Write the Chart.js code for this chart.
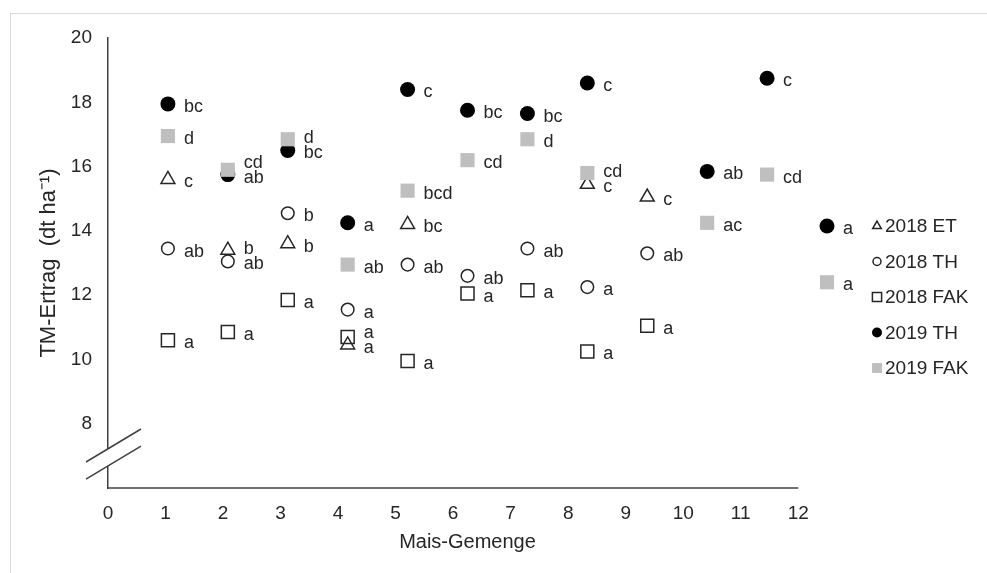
<!DOCTYPE html>
<html>
<head>
<meta charset="utf-8">
<script src="https://cdn.jsdelivr.net/npm/chart.js@4.4.1/dist/chart.umd.min.js"></script>
<style>
body { margin: 0; background: #fff; }
#rahmen { position: absolute; left: 10px; top: 13px; width: 990px; height: 580px; border-left: 1px solid #d9d9d9; border-top: 1px solid #d9d9d9; }
canvas { position: absolute; left: 0; top: 0; }
</style>
</head>
<body>
<div id="rahmen"></div>
<canvas id="ertrag" width="987" height="573"></canvas>
<script>
const gemenge = [1, 2, 3, 4, 5, 6, 7, 8, 9, 10, 11, 12];
const xTicks = [0, 1, 2, 3, 4, 5, 6, 7, 8, 9, 10, 11, 12];
const yTicks = [8, 10, 12, 14, 16, 18, 20];

const et2018 = [15.6, 13.4, 13.6, 10.45, 14.2, null, null, 15.45, 15.05, null, null, null];
const et2018Buchst = ["c", "b", "b", "a", "bc", null, null, "c", "c", null, null, null];

const th2018 = [13.45, 13.05, 14.55, 11.55, 12.95, 12.6, 13.45, 12.25, 13.3, null, null, null];
const th2018Buchst = ["ab", "ab", "b", "a", "ab", "ab", "ab", "a", "ab", null, null, null];

const fak2018 = [10.6, 10.85, 11.85, 10.7, 9.95, 12.05, 12.15, 10.25, 11.05, null, null, null];
const fak2018Buchst = ["a", "a", "a", "a", "a", "a", "a", "a", "a", null, null, null];

const th2019 = [17.95, 15.75, 16.5, 14.25, 18.4, 17.75, 17.65, 18.6, null, 15.85, 18.75, 14.15];
const th2019Buchst = ["bc", "ab", "bc", "a", "c", "bc", "bc", "c", null, "ab", "c", "a"];

const fak2019 = [16.95, 15.9, 16.85, 12.95, 15.25, 16.2, 16.85, 15.8, null, 14.25, 15.75, 12.4];
const fak2019Buchst = ["d", "cd", "d", "ab", "bcd", "cd", "d", "cd", null, "ac", "cd", "a"];

const dunkel = "#262626";
const schrift = "'Liberation Sans', Arial, sans-serif";
Chart.defaults.font.family = schrift;
Chart.defaults.font.size = 19;
Chart.defaults.color = dunkel;

const punkte = werte => gemenge.map((g, i) => ({ x: g, y: werte[i] }));

// Buchstaben rechts neben den Punkten, bei Überlappung wird der obere nach oben geschoben
const buchstaben = {
  id: "buchstaben",
  afterDatasetsDraw(chart) {
    const ctx = chart.ctx;
    const spalten = {};
    chart.data.datasets.forEach((ds, di) => {
      chart.getDatasetMeta(di).data.forEach((pt, i) => {
        const t = ds.buchstaben[i];
        if (!t || pt.skip) return;
        (spalten[i] = spalten[i] || []).push({ t: t, x: pt.x + 16, y: pt.y + 3 });
      });
    });
    ctx.save();
    ctx.font = "18px " + schrift;
    ctx.fillStyle = dunkel;
    ctx.textAlign = "left";
    ctx.textBaseline = "middle";
    Object.values(spalten).forEach(liste => {
      liste.sort((a, b) => a.y - b.y);
      for (let j = liste.length - 2; j >= 0; j--) {
        if (liste[j].y > liste[j + 1].y - 15) liste[j].y = liste[j + 1].y - 15;
      }
      liste.forEach(l => ctx.fillText(l.t, l.x, l.y));
    });
    ctx.restore();
  }
};

// x-Achsenlinie bis zur Beschriftung 12, dazu der Achsenbruch an der y-Achse
const achsen = {
  id: "achsen",
  beforeDatasetsDraw(chart) {
    const ctx = chart.ctx;
    const a = chart.chartArea;
    ctx.save();
    ctx.strokeStyle = "#404040";
    ctx.lineWidth = 1.5;
    ctx.beginPath();
    ctx.moveTo(a.left, a.bottom);
    ctx.lineTo(chart.scales.x2.getPixelForValue(12), a.bottom);
    ctx.stroke();
    ctx.restore();
  },
  afterDraw(chart) {
    const ctx = chart.ctx;
    const y = chart.scales.y;
    const ax = chart.chartArea.left;
    const y1 = y.getPixelForValue(7.22);
    const y2 = y.getPixelForValue(6.69);
    const m = 0.6;
    ctx.save();
    ctx.fillStyle = "#fff";
    ctx.beginPath();
    ctx.moveTo(ax - 4, y1 + 4 * m);
    ctx.lineTo(ax + 4, y1 - 4 * m);
    ctx.lineTo(ax + 4, y2 - 4 * m);
    ctx.lineTo(ax - 4, y2 + 4 * m);
    ctx.closePath();
    ctx.fill();
    ctx.strokeStyle = "#404040";
    ctx.lineWidth = 1.5;
    [y1, y2].forEach(yc => {
      ctx.beginPath();
      ctx.moveTo(ax - 22, yc + 22 * m);
      ctx.lineTo(ax + 33, yc - 33 * m);
      ctx.stroke();
    });
    ctx.restore();
  }
};

// Legende rechts
const legende = {
  id: "legende",
  afterDraw(chart) {
    const ctx = chart.ctx;
    ctx.save();
    ctx.font = "19px " + schrift;
    ctx.textAlign = "left";
    ctx.textBaseline = "middle";
    chart.data.datasets.forEach((ds, i) => {
      const y = 226 + i * 35.5;
      ctx.fillStyle = ds.backgroundColor;
      ctx.strokeStyle = ds.borderColor;
      ctx.lineWidth = ds.borderWidth;
      Chart.helpers.drawPoint(ctx, { pointStyle: ds.pointStyle, radius: ds.legendRadius, borderWidth: ds.borderWidth, rotation: 0 }, 877, y);
      ctx.fillStyle = dunkel;
      ctx.fillText(ds.label, 885, y + 1);
    });
    ctx.restore();
  }
};

new Chart(document.getElementById("ertrag"), {
  type: "scatter",
  data: {
    datasets: [
      { label: "2018 ET", data: punkte(et2018), buchstaben: et2018Buchst, order: 5,
        pointStyle: "triangle", pointRadius: 8, legendRadius: 5,
        backgroundColor: "rgba(0,0,0,0)", borderColor: dunkel, borderWidth: 1.5, clip: false },
      { label: "2018 TH", data: punkte(th2018), buchstaben: th2018Buchst, order: 4,
        pointStyle: "circle", pointRadius: 6.3, legendRadius: 4,
        backgroundColor: "rgba(0,0,0,0)", borderColor: dunkel, borderWidth: 1.5, clip: false },
      { label: "2018 FAK", data: punkte(fak2018), buchstaben: fak2018Buchst, order: 3,
        pointStyle: "rect", pointRadius: 9.2, legendRadius: 6.5,
        backgroundColor: "rgba(0,0,0,0)", borderColor: dunkel, borderWidth: 1.5, clip: false },
      { label: "2019 TH", data: punkte(th2019), buchstaben: th2019Buchst, order: 2,
        pointStyle: "circle", pointRadius: 7.5, legendRadius: 5,
        backgroundColor: "#000", borderColor: "#000", borderWidth: 0, clip: false },
      { label: "2019 FAK", data: punkte(fak2019), buchstaben: fak2019Buchst, order: 1,
        pointStyle: "rect", pointRadius: 10, legendRadius: 7,
        backgroundColor: "#bfbfbf", borderColor: "#bfbfbf", borderWidth: 0, clip: false }
    ]
  },
  options: {
    responsive: false,
    animation: false,
    events: [],
    layout: { padding: { left: 0, right: 160, top: 38, bottom: 0 } },
    plugins: { legend: { display: false }, tooltip: { enabled: false } },
    scales: {
      x: { type: "linear", min: 0, max: 12, display: false },
      x2: {
        type: "linear", position: "bottom", min: 0, max: 12.5,
        afterBuildTicks: s => { s.ticks = xTicks.map(v => ({ value: v })); },
        afterFit: s => { s.height = 85; },
        grid: { display: false, drawTicks: false },
        border: { display: false },
        ticks: { padding: 14, maxRotation: 0, color: dunkel },
        title: { display: true, text: "Mais-Gemenge", color: dunkel, font: { size: 20 }, padding: { top: 0, bottom: 19 } }
      },
      y: {
        type: "linear", min: 6, max: 20,
        afterBuildTicks: s => { s.ticks = yTicks.map(v => ({ value: v })); },
        afterFit: s => { s.width = 108; },
        grid: { display: false, drawTicks: false },
        border: { color: "#404040", width: 1.5 },
        ticks: { padding: 16, color: dunkel },
        title: { display: true, text: "TM-Ertrag  (dt ha\u207B\u00B9)", color: dunkel, font: { size: 22 }, padding: { top: 36, bottom: 0 } }
      }
    }
  },
  plugins: [buchstaben, achsen, legende]
});
</script>
</body>
</html>
